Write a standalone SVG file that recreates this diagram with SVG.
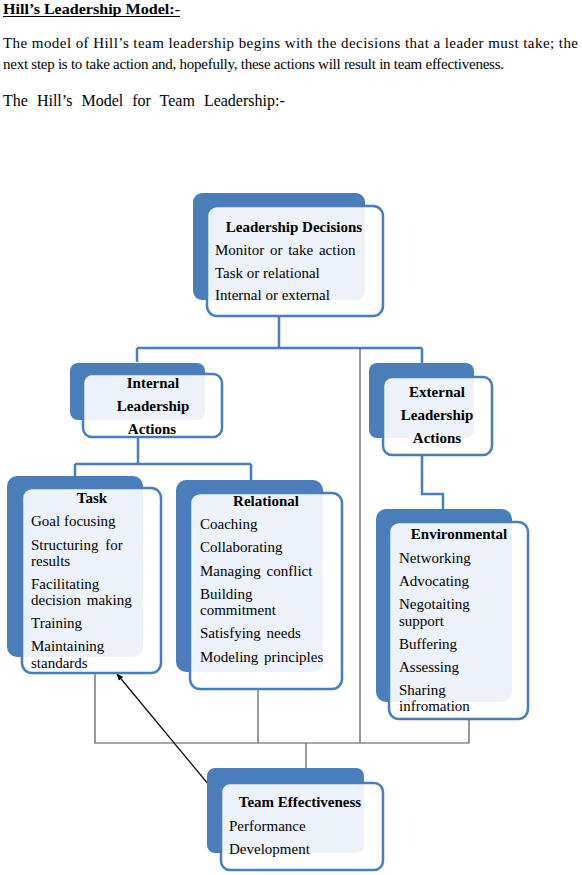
<svg xmlns="http://www.w3.org/2000/svg" width="582" height="875" viewBox="0 0 582 875">
<defs>
<style>
.t{font-family:"Liberation Serif","Times New Roman",serif;font-size:15px;fill:#000}
.b{font-weight:bold;text-anchor:middle}
.back{fill:#4A7EBB}
.front{fill:#fff;fill-opacity:0.9;stroke:#4A7EBB;stroke-width:2.5}
.blue{fill:none;stroke:#4A7EBB;stroke-width:2.5}
.gray{fill:none;stroke:#555;stroke-width:1.2}
</style>
<marker id="ah" viewBox="0 0 10 10" refX="9" refY="5" markerWidth="7" markerHeight="7" orient="auto-start-reverse" markerUnits="userSpaceOnUse">
<path d="M0,1 L10,5 L0,9 z" fill="#000"/>
</marker>
</defs>
<rect width="582" height="875" fill="#fff"/>
<g id="header">
<text class="t" x="3" y="14" font-weight="bold" textLength="177" lengthAdjust="spacingAndGlyphs">Hill’s Leadership Model:-</text>
<line x1="3" y1="16.5" x2="180" y2="16.5" stroke="#000" stroke-width="1.2"/>
<text class="t" x="3" y="48" textLength="575" lengthAdjust="spacing">The model of Hill’s team leadership begins with the decisions that a leader must take; the</text>
<text class="t" x="3" y="69" textLength="501" lengthAdjust="spacing">next step is to take action and, hopefully,  these actions will result in team effectiveness.</text>
<text class="t" x="3" y="106" style="font-size:16px;word-spacing:5px">The Hill’s  Model for Team Leadership:-</text>
</g>
<g id="connectors">
<path class="blue" d="M279,316 V348 M137,348 H422 M137,348 V362 M422,348 V363"/>
<path class="blue" d="M138,437 V464 M75,464 H251 M75,464 V476 M251,464 V480"/>
<path class="blue" d="M422,455 V494 H443 V509"/>
<path class="gray" d="M95,673 V743 H469 V719 M258,689 V743 M360,348 V743 M306,743 V783"/>
<line x1="117" y1="674" x2="223" y2="802" stroke="#000" stroke-width="1.2" marker-start="url(#ah)" marker-end="url(#ah)"/>
</g>
<g id="leadership-decisions">
<rect class="back" x="193" y="193" width="172" height="107" rx="9"/>
<rect class="front" x="207" y="206" width="176" height="110" rx="10"/>
<text class="t b" x="294" y="232">Leadership Decisions</text>
<text class="t" x="215" y="255" word-spacing="2">Monitor  or take action</text>
<text class="t" x="215" y="278">Task or relational</text>
<text class="t" x="215" y="300">Internal  or external</text>
</g>
<g id="internal-actions">
<rect class="back" x="70" y="363" width="135" height="57" rx="8"/>
<rect class="front" x="83" y="374" width="139" height="63" rx="9"/>
<text class="t b" x="153" y="388">Internal</text>
<text class="t b" x="153" y="411">Leadership</text>
<text class="t b" x="152" y="434">Actions</text>
</g>
<g id="external-actions">
<rect class="back" x="369" y="363" width="105" height="75" rx="8"/>
<rect class="front" x="383" y="377" width="109" height="78" rx="9"/>
<text class="t b" x="437" y="397">External</text>
<text class="t b" x="437" y="420">Leadership</text>
<text class="t b" x="437" y="443">Actions</text>
</g>
<g id="task">
<rect class="back" x="7" y="476" width="136" height="181" rx="10"/>
<rect class="front" x="22" y="488" width="139" height="185" rx="10"/>
<text class="t b" x="92" y="503">Task</text>
<text class="t" x="31" y="526">Goal focusing</text>
<text class="t" x="31" y="550" word-spacing="3">Structuring  for</text>
<text class="t" x="31" y="566">results</text>
<text class="t" x="31" y="589">Facilitating</text>
<text class="t" x="31" y="605" word-spacing="2">decision  making</text>
<text class="t" x="31" y="628">Training</text>
<text class="t" x="31" y="651">Maintaining</text>
<text class="t" x="31" y="668">standards</text>
</g>
<g id="relational">
<rect class="back" x="176" y="480" width="147" height="192" rx="10"/>
<rect class="front" x="190" y="493" width="152" height="196" rx="10"/>
<text class="t b" x="266" y="506">Relational</text>
<text class="t" x="200" y="529">Coaching</text>
<text class="t" x="200" y="552">Collaborating</text>
<text class="t" x="200" y="576" word-spacing="2">Managing  conflict</text>
<text class="t" x="200" y="599">Building</text>
<text class="t" x="200" y="615">commitment</text>
<text class="t" x="200" y="638" word-spacing="2">Satisfying  needs</text>
<text class="t" x="200" y="662" word-spacing="2">Modeling  principles</text>
</g>
<g id="environmental">
<rect class="back" x="376" y="509" width="136" height="193" rx="10"/>
<rect class="front" x="389" y="522" width="139" height="197" rx="10"/>
<text class="t b" x="459" y="539">Environmental</text>
<text class="t" x="399" y="563">Networking</text>
<text class="t" x="399" y="586">Advocating</text>
<text class="t" x="399" y="609">Negotaiting</text>
<text class="t" x="399" y="626">support</text>
<text class="t" x="399" y="649">Buffering</text>
<text class="t" x="399" y="672">Assessing</text>
<text class="t" x="399" y="695">Sharing</text>
<text class="t" x="399" y="711">infromation</text>
</g>
<g id="team-effectiveness">
<rect class="back" x="207" y="768" width="157" height="85" rx="8"/>
<rect class="front" x="221" y="783" width="162" height="87" rx="9"/>
<text class="t b" x="300" y="807">Team Effectiveness</text>
<text class="t" x="229" y="831">Performance</text>
<text class="t" x="229" y="854">Development</text>
</g>
</svg>
